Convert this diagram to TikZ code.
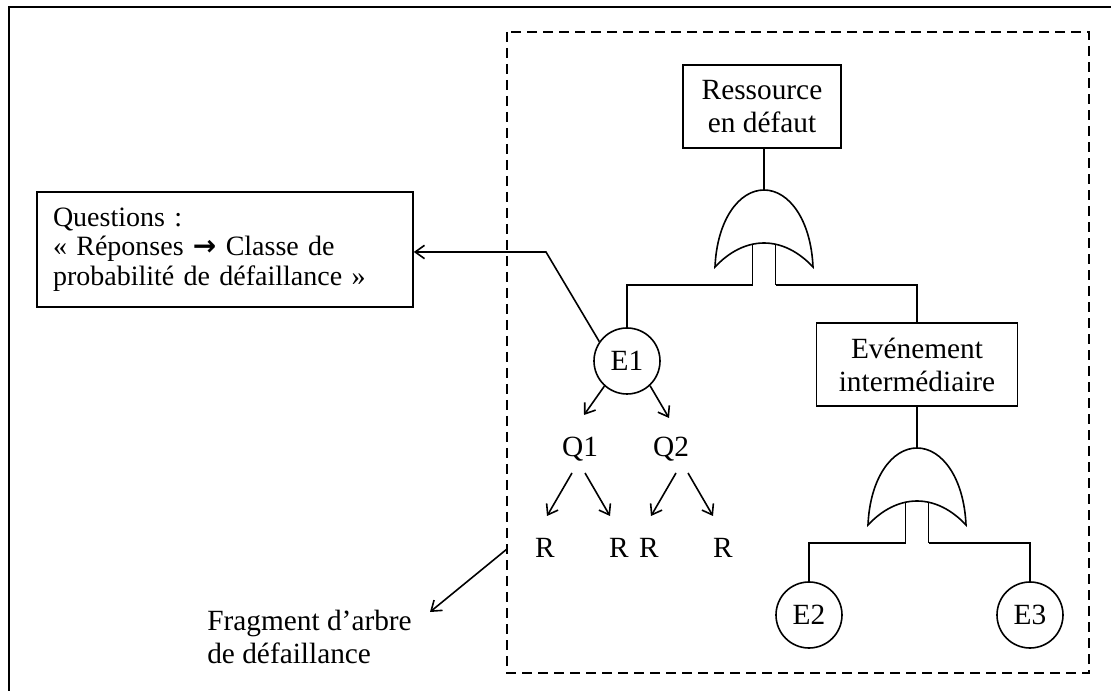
\documentclass[tikz,border=0pt]{standalone}
\usepackage{fontspec}
\setmainfont{Liberation Serif}
\newfontfamily\symfont{DejaVu Sans}
\usetikzlibrary{arrows.meta}
\tikzset{
  base line/.style={line width=1.2pt},
  txt/.style={font=\fontsize{22}{24.75}\selectfont, inner sep=0pt},
  boxnode/.style={base line, draw, txt, align=center},
  evt/.style={base line, draw, circle, txt, minimum size=49.5pt},
  arr/.style={base line, -{Straight Barb[length=7pt,width=10pt,line width=1.2pt]}},
  dashbox/.style={base line, dash pattern=on 7.5pt off 4.5pt},
  orgate/.pic={
    \draw[base line] (-49,77) .. controls (-47,30) and (-25,0) .. (0,0)
      .. controls (25,0) and (47,30) .. (49,77)
      .. controls (35,62) and (18,53) .. (0,53)
      .. controls (-18,53) and (-35,62) .. (-49,77) -- cycle;
    \coordinate (-top) at (0,0);
    \coordinate (-l) at (-11.5,95);
    \coordinate (-r) at (11.5,95);
    \draw[base line] (-11.5,54.3) -- (-l);
    \draw[base line] (11.5,54.3) -- (-r);
  }
}
\begin{document}
\begin{tikzpicture}[x=0.75pt,y=-0.75pt]
\useasboundingbox (0,0) rectangle (1111,691);
% outer frame (top and left visible)
\draw[line width=1.5pt] (9,691) -- (9,7) -- (1111,7);
% dashed region
\draw[dashbox] (507,32) rectangle (1089,673);

\node[boxnode, minimum width=118.5pt, minimum height=62.25pt] (rbox) at (762,106.5)
  {Ressource\\en défaut};
\pic (g1) at (764,190) {orgate};
\draw[base line] (rbox.south -| g1-top) -- (g1-top);

\node[evt] (E1) at (627,361) {E1};
\node[boxnode, minimum width=150.75pt, minimum height=62.25pt] (ebox) at (917,364.5)
  {Evénement\\intermédiaire};
\draw[base line] (g1-l) -| (E1);
\draw[base line] (g1-r) -| (ebox);

\pic (g2) at (917,448) {orgate};
\draw[base line] (ebox) -- (g2-top);
\node[evt] (E2) at (809,615) {E2};
\node[evt] (E3) at (1030,615) {E3};
\draw[base line] (g2-l) -| (E2);
\draw[base line] (g2-r) -| (E3);

% questions
\node[txt, anchor=base] (Q1) at (580,457) {Q1};
\node[txt, anchor=base] (Q2) at (671,457) {Q2};
\node[txt, anchor=base] (R1) at (545,558) {R};
\node[txt, anchor=base] (R2) at (619,558) {R};
\node[txt, anchor=base] (R3) at (649,558) {R};
\node[txt, anchor=base] (R4) at (723,558) {R};
\draw[arr] (E1.228) -- ([shift={(4,-42)}]Q1.base);
\draw[arr] (E1.313) -- ([shift={(-2,-39)}]Q2.base);
\draw[arr] ([shift={(-8,16)}]Q1.base) -- ([shift={(2,-42)}]R1.base);
\draw[arr] ([shift={(5,16)}]Q1.base) -- ([shift={(-9,-42)}]R2.base);
\draw[arr] ([shift={(5,16)}]Q2.base) -- ([shift={(2,-42)}]R3.base);
\draw[arr] ([shift={(17,16)}]Q2.base) -- ([shift={(-10,-42)}]R4.base);

% questions box
\node[base line, draw, txt, font=\fontsize{21}{22}\selectfont, align=left,
      text width=258pt, minimum height=86.25pt, inner xsep=12pt] (qbox) at (225,249.5)
  {Questions :\\« Réponses {\symfont\bfseries →} Classe de\\probabilité de défaillance »};
\coordinate (bend) at (546,252);
\draw[arr] (E1.145) -- (bend) -- (bend -| qbox.east);

% fragment label
\node[txt, align=left, anchor=east] (frag) at (412,637)
  {Fragment d’arbre\\de défaillance};
\coordinate (fs) at (507,549);
\coordinate (fe) at (430,612);
\draw[arr] (fs) -- (fe);
\end{tikzpicture}
\end{document}
